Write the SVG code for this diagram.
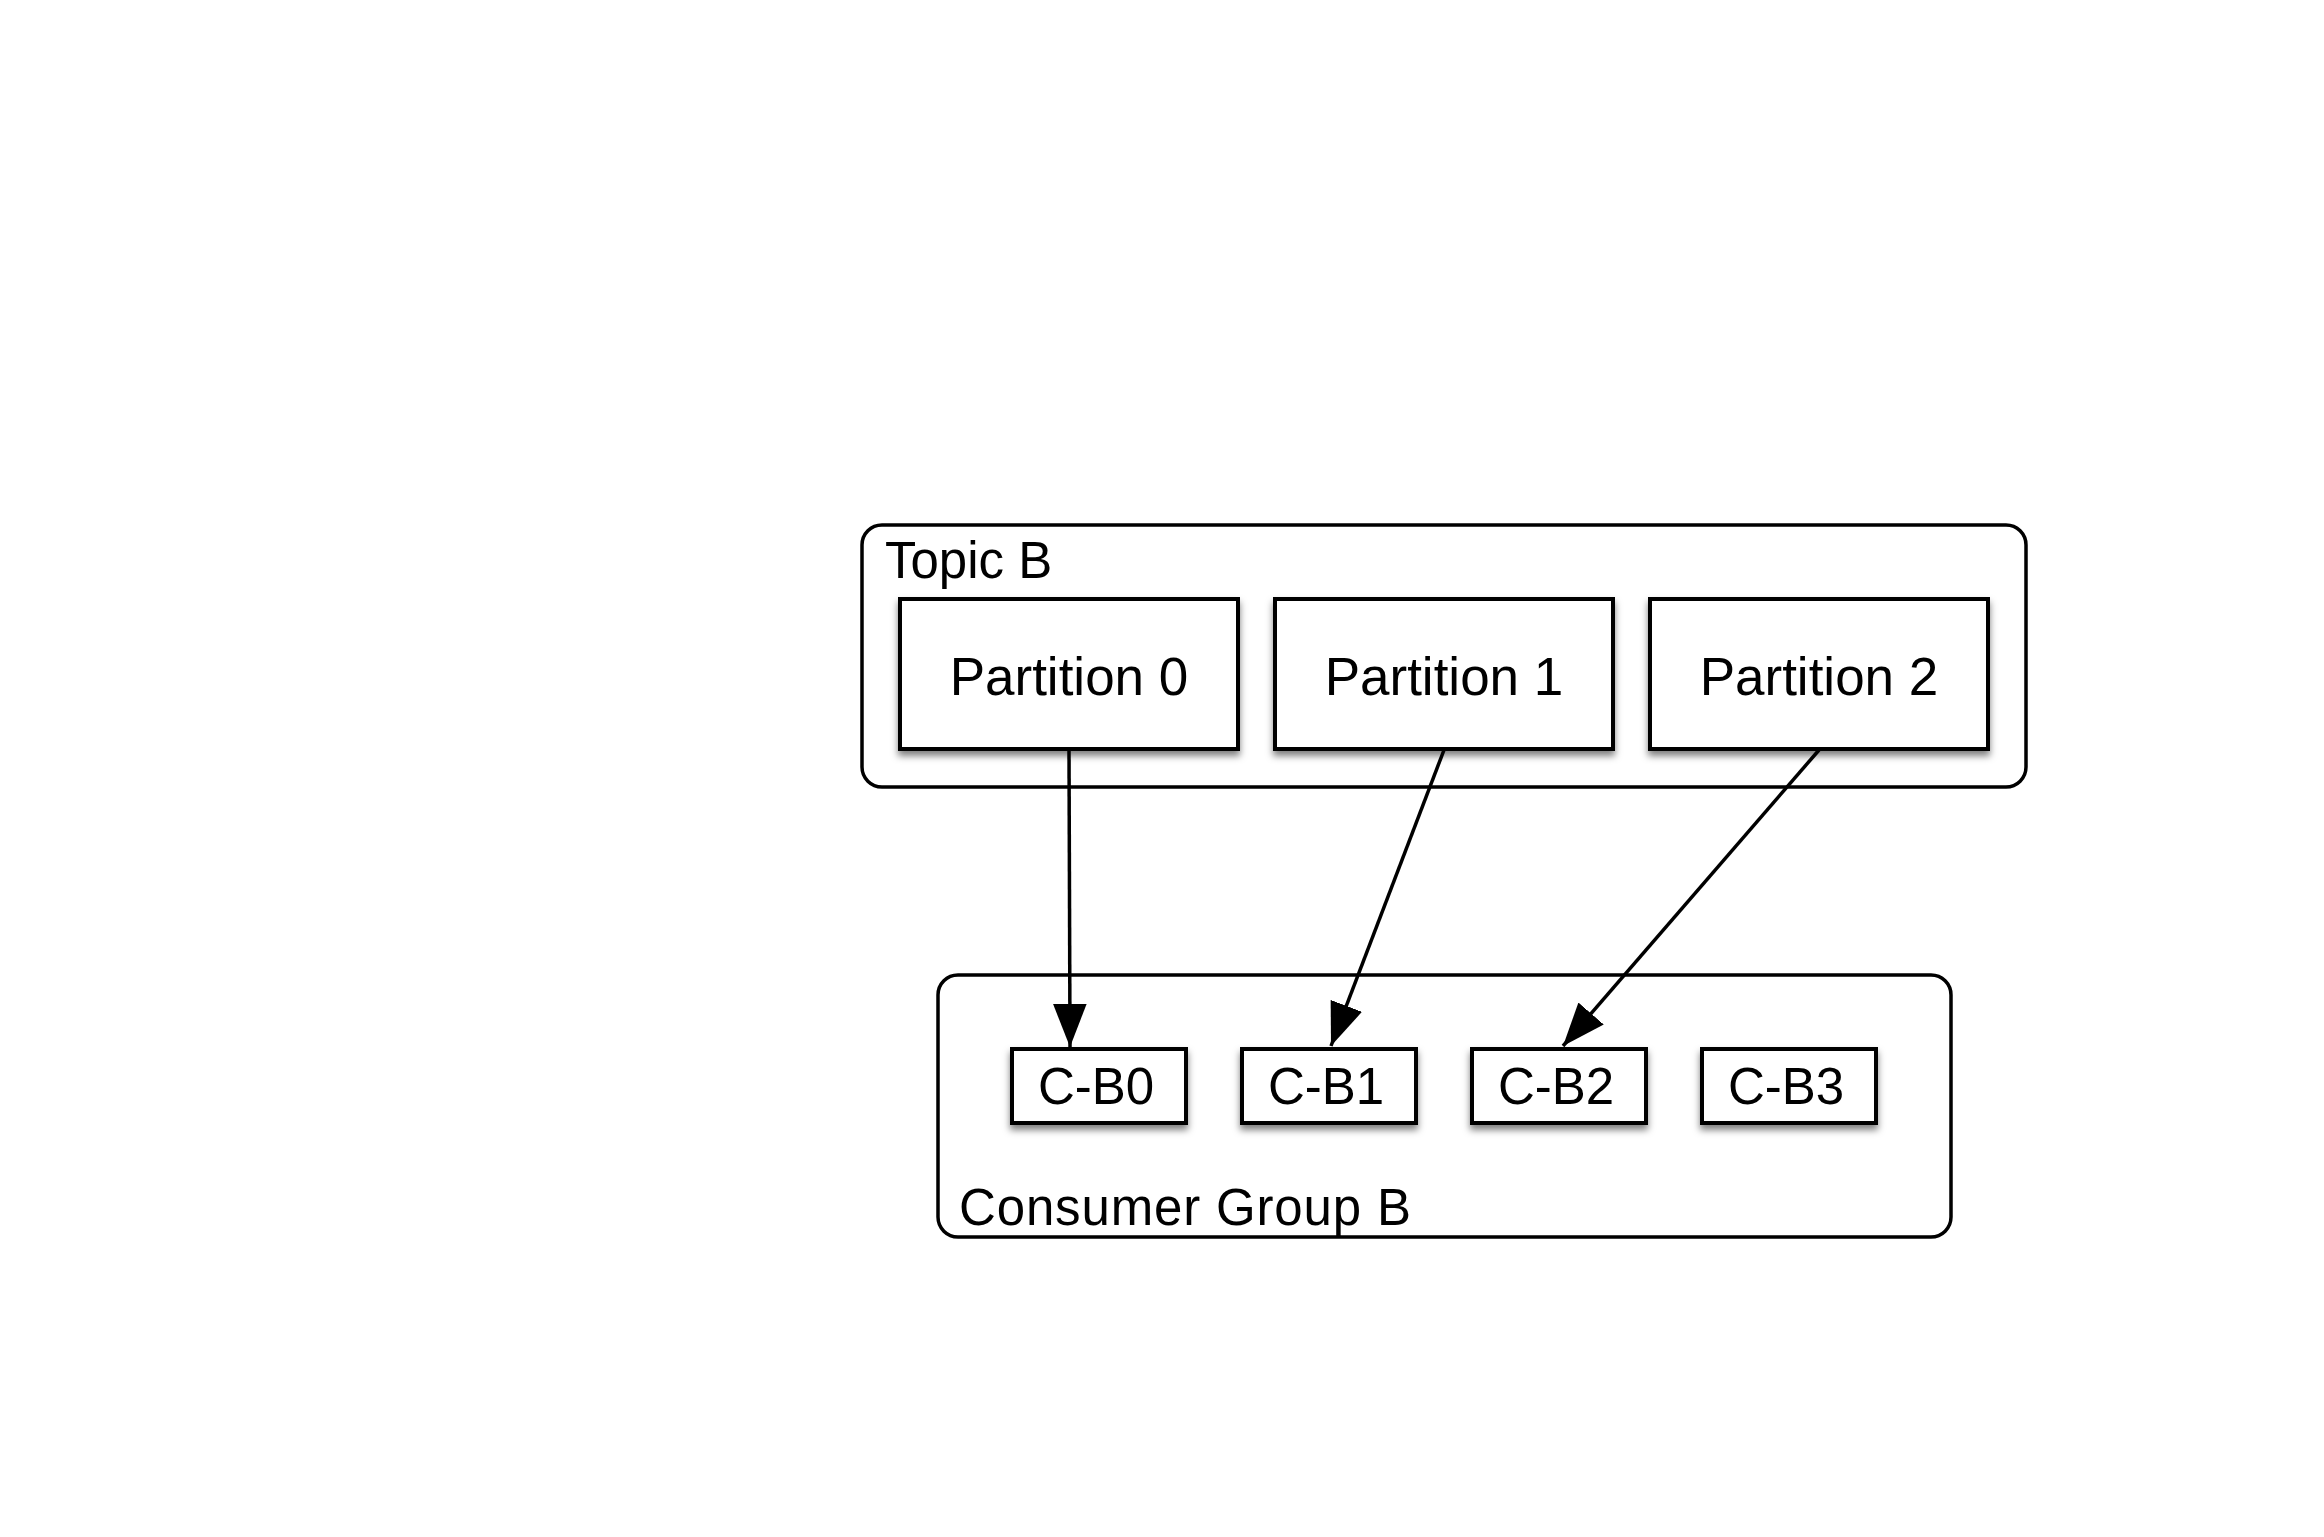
<svg xmlns="http://www.w3.org/2000/svg" width="2324" height="1537" viewBox="0 0 2324 1537">
<style>
.grp{fill:none;stroke:#000;stroke-width:3.5}
.box{fill:#fff;stroke:#000;stroke-width:4;filter:url(#sh)}
.t{font-family:"Liberation Sans",Arial,sans-serif;fill:#000}
.lbl{font-size:51px}
.pt{font-size:53px;text-anchor:middle}
.ct{font-size:51px;text-anchor:middle}
.edge{fill:none;stroke:#000;stroke-width:3.5}
</style>
<defs>
<filter id="sh" x="-20%" y="-20%" width="140%" height="160%">
<feDropShadow dx="0" dy="5" stdDeviation="3.5" flood-color="#000" flood-opacity="0.5"/>
</filter>
<marker id="ah" markerUnits="userSpaceOnUse" markerWidth="44" markerHeight="34" viewBox="0 0 42 32" refX="41" refY="16" orient="auto">
<path d="M0,0 L41,16 L0,32 Z" fill="#000"/>
</marker>
</defs>
<rect width="2324" height="1537" fill="#fff"/>
<g id="topicB">
<rect class="grp" x="862" y="525" width="1164" height="262" rx="20"/>
<text class="t lbl" x="885" y="578">Topic B</text>
</g>
<g id="consumerGroupB">
<rect class="grp" x="938" y="975" width="1013" height="262" rx="20"/>
<text class="t lbl" x="959" y="1225" textLength="452" lengthAdjust="spacing">Consumer Group B</text>
</g>
<g id="partition0">
<rect class="box" x="900" y="599" width="338" height="150"/>
<text class="t pt" x="1069" y="695">Partition 0</text>
</g>
<g id="partition1">
<rect class="box" x="1275" y="599" width="338" height="150"/>
<text class="t pt" x="1444" y="695">Partition 1</text>
</g>
<g id="partition2">
<rect class="box" x="1650" y="599" width="338" height="150"/>
<text class="t pt" x="1819" y="695">Partition 2</text>
</g>
<g id="cb0">
<rect class="box" x="1012" y="1049" width="174" height="74"/>
<text class="t ct" x="1096" y="1104">C-B0</text>
</g>
<g id="cb1">
<rect class="box" x="1242" y="1049" width="174" height="74"/>
<text class="t ct" x="1326" y="1104">C-B1</text>
</g>
<g id="cb2">
<rect class="box" x="1472" y="1049" width="174" height="74"/>
<text class="t ct" x="1556" y="1104">C-B2</text>
</g>
<g id="cb3">
<rect class="box" x="1702" y="1049" width="174" height="74"/>
<text class="t ct" x="1786" y="1104">C-B3</text>
</g>
<g id="connectors">
<line class="edge" x1="1069" y1="750" x2="1070" y2="1047" marker-end="url(#ah)"/>
<line class="edge" x1="1444" y1="750" x2="1331" y2="1046" marker-end="url(#ah)"/>
<line class="edge" x1="1819" y1="750" x2="1563" y2="1046" marker-end="url(#ah)"/>
</g>
</svg>
